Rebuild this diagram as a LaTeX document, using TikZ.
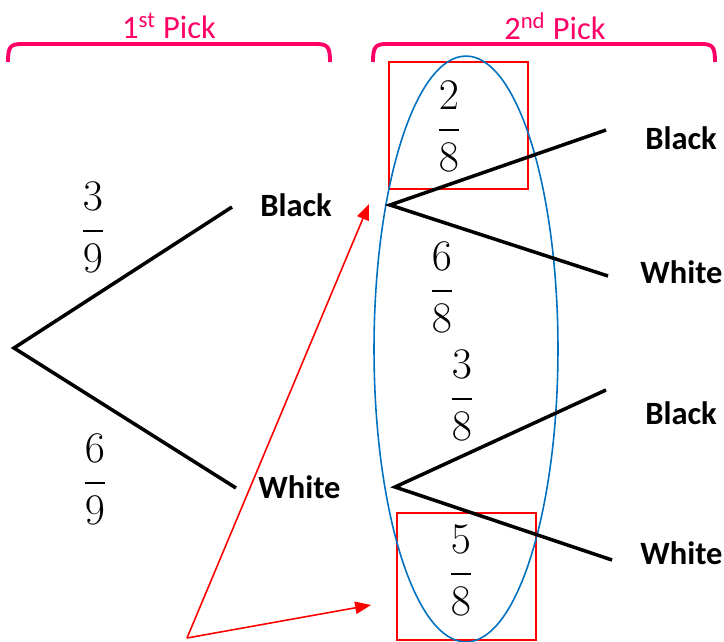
\documentclass[tikz,border=0pt]{standalone}
\usepackage{fontspec}
\setmainfont{Carlito}
\usetikzlibrary{arrows.meta}
\definecolor{pick}{HTML}{FF0066}
\definecolor{ovalblue}{HTML}{0070C0}
\newcommand\myfrac[2]{$\displaystyle{\mathstrut#1\above1.5pt\mathstrut#2}$}
\begin{document}
\begin{tikzpicture}[x=0.02cm,y=-0.02cm,
 branch/.style={line width=2pt, black},
 lbl/.style={font=\fontsize{18.5}{22}\selectfont\bfseries, inner sep=0pt, anchor=west},
 frac/.style={font=\fontsize{25}{30}\selectfont, inner sep=0pt},
 hdr/.style={text=pick, font=\fontsize{18.5}{22}\selectfont, inner sep=0pt},
 brk/.style={draw=pick, line width=2.2pt},
 pointer/.style={red, line width=0.9pt, -{Triangle[length=9pt,width=7pt]}},
 hilite/.style={draw=red, line width=0.9pt},
 oval/.style={draw=ovalblue, line width=0.9pt}]
\useasboundingbox (0,0) rectangle (724,642);

% headers
\node[hdr] (h1) at (169,26) {1\textsuperscript{st} Pick};
\node[hdr] (h2) at (555,26) {2\textsuperscript{nd} Pick};
\draw[brk] (8,62) .. controls (8,47) and (10,44) .. (22,44) -- (316,44) .. controls (328,44) and (330,47) .. (330,62);
\draw[brk] (373,62) .. controls (373,47) and (375,44) .. (387,44) -- (701,44) .. controls (713,44) and (715,47) .. (715,62);

% highlight boxes and oval
\draw[hilite] (389,62) rectangle (528,189);
\draw[hilite] (397,513) rectangle (536,640);
\draw[oval] (466,349) ellipse [x radius=1.84cm, y radius=5.86cm];

% first pick
\coordinate (r) at (14,348);
\coordinate (b1) at (232,207);
\coordinate (w1) at (236,488);
\draw[branch] (b1) -- (r) -- (w1);
\node[lbl] (lb1) at (260,205) {Black};
\node[lbl] (lw1) at (258,487) {White};
\node[frac] (f39) at (93,231) {\myfrac{3}{9}};
\node[frac] (f69) at (95,483) {\myfrac{6}{9}};

% second pick, upper
\coordinate (n2) at (390,205);
\coordinate (bb) at (606,130);
\coordinate (bw) at (608,276);
\draw[branch] (bb) -- (n2) -- (bw);
\node[lbl] (lbb) at (645,138) {Black};
\node[lbl] (lbw) at (640,272) {White};
\node[frac] (f28) at (449,130) {\myfrac{2}{8}};
\node[frac] (f68) at (442,291) {\myfrac{6}{8}};

% second pick, lower
\coordinate (n3) at (395,487);
\coordinate (wb) at (606,390);
\coordinate (ww) at (612,560);
\draw[branch] (wb) -- (n3) -- (ww);
\node[lbl] (lwb) at (645,413) {Black};
\node[lbl] (lww) at (640,553) {White};
\node[frac] (f38) at (462,399) {\myfrac{3}{8}};
\node[frac] (f58) at (461,574) {\myfrac{5}{8}};

% red pointers
\coordinate (s) at (187,638);
\coordinate (t1) at (369,204);
\coordinate (t2) at (371,605);
\draw[pointer] (s) -- (t1);
\draw[pointer] (s) -- (t2);
\end{tikzpicture}
\end{document}
